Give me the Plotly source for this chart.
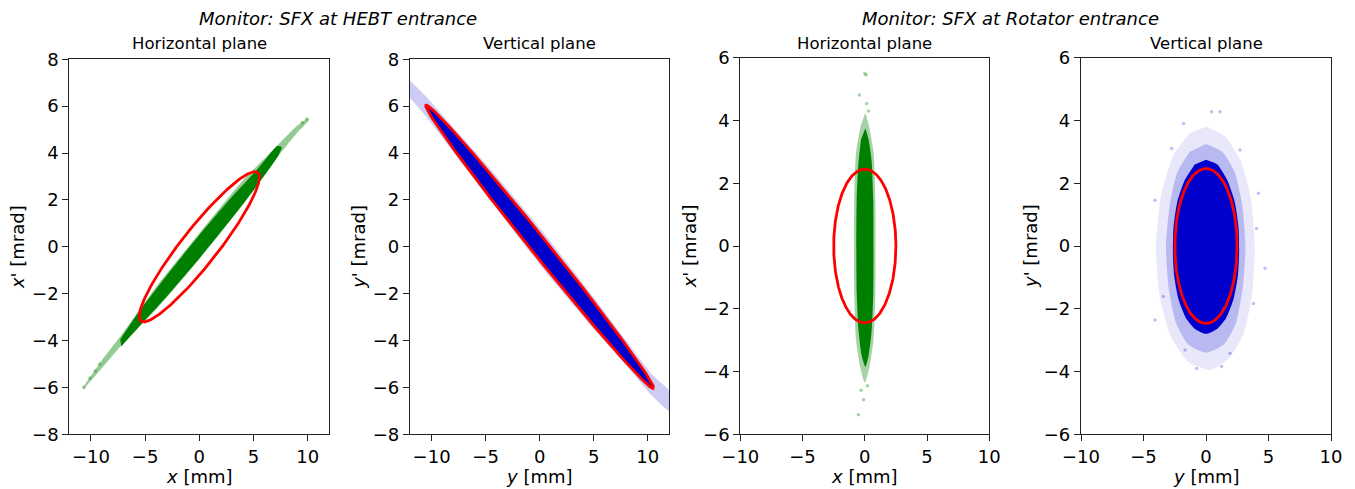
import numpy as np
import plotly.graph_objects as go

# ---------------- data ----------------
monitor_titles = ["Monitor: SFX at HEBT entrance", "Monitor: SFX at Rotator entrance"]
plane_titles = ["Horizontal plane", "Vertical plane", "Horizontal plane", "Vertical plane"]
x_labels = ["<i>x</i> [mm]", "<i>y</i> [mm]", "<i>x</i> [mm]", "<i>y</i> [mm]"]
y_labels = ["<i>x</i>' [mrad]", "<i>y</i>' [mrad]", "<i>x</i>' [mrad]", "<i>y</i>' [mrad]"]
x_ranges = [[-12, 12], [-12, 12], [-10, 10], [-10, 10]]
y_ranges = [[-8, 8], [-8, 8], [-6, 6], [-6, 6]]
x_ticks = [-10, -5, 0, 5, 10]
y_ticks_hebt = [-8, -6, -4, -2, 0, 2, 4, 6, 8]
y_ticks_rot = [-6, -4, -2, 0, 2, 4, 6]

# RMS-ellipse Twiss parameters per panel (alpha, beta [mm/mrad], emittance [mm mrad])
ell_alpha = [-2.45, 10.5, 0.0, 0.0]
ell_beta = [4.58, 18.4, 1.02, 1.01]
ell_emit = [6.72, 6.05, 6.125, 6.15]

# Panel 1 (HEBT, horizontal) particle cloud outlines
p1_halo_x = [-10.7, -9.0, -7.0, -4.0, 0.0, 4.0, 7.0, 9.0, 10.1, 10.1, 9.0, 7.0, 4.0, 0.0, -4.0, -7.0, -9.0, -10.7]
p1_halo_y = [-5.97, -4.85, -3.65, -1.72, 0.58, 2.82, 4.22, 5.15, 5.5, 5.4, 4.85, 3.7, 1.78, -0.52, -2.68, -4.1, -5.18, -6.08]
p1_core_x = [-7.3, -5.5, -3.0, 0.0, 3.0, 5.5, 7.2, 7.6, 7.3, 5.5, 3.0, 0.0, -3.0, -5.5, -7.2]
p1_core_y = [-3.95, -2.72, -1.22, 0.5, 2.12, 3.38, 4.3, 4.25, 3.9, 2.72, 1.22, -0.5, -2.12, -3.38, -4.25]
p1_out_x = [-10.65, -10.1, -9.6, -9.2, 9.9, 9.5]
p1_out_y = [-6.0, -5.6, -5.3, -5.0, 5.45, 5.3]

# Panel 2 (HEBT, vertical) particle cloud outlines
p2_halo_x = [-12.0, -10.5, -8.0, -5.0, 0.0, 5.0, 8.0, 10.5, 12.0, 12.0, 10.5, 8.0, 5.0, 0.0, -5.0, -8.0, -10.5, -12.0]
p2_halo_y = [7.1, 6.4, 5.1, 3.55, 0.8, -2.15, -4.0, -5.5, -6.15, -7.0, -6.4, -5.05, -3.5, -0.75, 2.25, 4.05, 5.55, 6.35]
p2_core_x = [-10.45, -10.0, -8.0, -5.0, -2.0, 0.0, 2.0, 5.0, 8.0, 10.0, 10.45, 10.0, 8.0, 5.0, 2.0, 0.0, -2.0, -5.0, -8.0, -10.0]
p2_core_y = [5.97, 5.89, 4.94, 3.36, 1.70, 0.57, -0.58, -2.35, -4.20, -5.53, -5.97, -5.89, -4.94, -3.36, -1.70, -0.57, 0.58, 2.35, 4.20, 5.53]

# Panel 3 (Rotator, horizontal) particle cloud outlines and outliers
p3_halo_x = [0.05, 0.35, 0.7, 0.85, 0.85, 0.7, 0.35, 0.0, -0.35, -0.7, -0.85, -0.85, -0.7, -0.35]
p3_halo_y = [4.25, 3.8, 3.0, 1.5, -1.5, -3.0, -3.9, -4.35, -3.9, -3.0, -1.5, 1.5, 3.0, 3.8]
p3_core_x = [0.05, 0.3, 0.55, 0.68, 0.7, 0.68, 0.55, 0.3, 0.05, -0.25, -0.5, -0.65, -0.68, -0.65, -0.5, -0.3]
p3_core_y = [3.75, 3.4, 2.7, 1.5, 0.0, -1.5, -2.7, -3.5, -3.85, -3.5, -2.7, -1.5, 0.0, 1.5, 2.7, 3.4]
p3_out_x = [0.0, 0.1, -0.44, 0.15, 0.3, -0.52, -0.3, 0.2, -0.1]
p3_out_y = [5.5, 5.45, 4.81, 4.54, 4.3, -5.38, -4.6, -4.45, -4.9]

# Panel 4 (Rotator, vertical) particle cloud outlines and outliers
p4_outer_x = [0.0, 1.5, 2.8, 3.6, 3.9, 3.7, 3.0, 1.8, 0.3, -1.4, -2.8, -3.7, -4.0, -3.6, -2.6, -1.3]
p4_outer_y = [3.8, 3.5, 2.7, 1.5, 0.0, -1.5, -2.8, -3.6, -3.95, -3.7, -2.9, -1.6, 0.0, 1.6, 2.9, 3.6]
p4_mid_x = [0.0, 1.3, 2.3, 2.9, 3.15, 2.95, 2.4, 1.4, 0.0, -1.4, -2.4, -3.0, -3.2, -2.9, -2.3, -1.3]
p4_mid_y = [3.25, 3.0, 2.35, 1.3, 0.0, -1.3, -2.45, -3.15, -3.4, -3.15, -2.45, -1.3, 0.0, 1.3, 2.35, 3.0]
p4_core_x = [0.0, 0.9, 1.7, 2.3, 2.6, 2.65, 2.55, 2.2, 1.6, 0.85, 0.0, -0.85, -1.6, -2.2, -2.55, -2.65, -2.6, -2.3, -1.7, -0.9]
p4_core_y = [2.75, 2.6, 2.1, 1.4, 0.6, -0.2, -0.95, -1.7, -2.3, -2.65, -2.8, -2.65, -2.3, -1.7, -0.95, -0.2, 0.6, 1.4, 2.1, 2.6]
p4_out_x = [1.12, 0.45, -1.8, 4.72, -4.08, -4.08, -0.75, 1.25, 4.19, 4.05, 3.79, -2.75, 2.72, -3.41, -1.68, 1.92]
p4_out_y = [4.28, 4.28, 3.9, -0.71, 1.46, -2.36, -3.9, -3.84, 1.68, 0.56, -1.83, 3.11, 3.06, -1.61, -3.31, -3.42]

# ---------------- styling ----------------
GREEN = "#008000"
BLUE = "#0000CD"
FONT = "DejaVu Sans"
W, H = 1355, 489

# panel frames in pixels (left, right, top, bottom)
frames = [(69.3, 329.3, 59.3, 434.3), (410.0, 669.3, 59.3, 434.3),
          (740.3, 989.3, 57.7, 434.3), (1081.0, 1331.0, 57.7, 434.3)]

fig = go.Figure()


def axes_names(i):
    s = "" if i == 0 else str(i + 1)
    return "x" + s, "y" + s


def add_poly(i, xs, ys, color):
    xa, ya = axes_names(i)
    fig.add_trace(go.Scatter(x=xs, y=ys, xaxis=xa, yaxis=ya, mode="lines",
                             fill="toself", fillcolor=color,
                             line=dict(width=0, color=color, shape="spline", smoothing=0.6),
                             hoverinfo="skip", showlegend=False))


def add_points(i, xs, ys, color, op=0.35):
    xa, ya = axes_names(i)
    fig.add_trace(go.Scatter(x=xs, y=ys, xaxis=xa, yaxis=ya, mode="markers",
                             marker=dict(size=3.5, color=color, opacity=op, line=dict(width=0)),
                             hoverinfo="skip", showlegend=False))


def add_ellipse(i):
    xa, ya = axes_names(i)
    a, b, e = ell_alpha[i], ell_beta[i], ell_emit[i]
    t = np.linspace(0, 2 * np.pi, 721)
    u = np.sqrt(e * b) * np.cos(t)
    v = -np.sqrt(e / b) * (a * np.cos(t) + np.sin(t))
    fig.add_trace(go.Scatter(x=u, y=v, xaxis=xa, yaxis=ya, mode="lines",
                             line=dict(color="#FF0000", width=2.8),
                             hoverinfo="skip", showlegend=False))


# panel 1
add_poly(0, p1_halo_x, p1_halo_y, "rgba(0,128,0,0.42)")
add_poly(0, p1_core_x, p1_core_y, GREEN)
add_points(0, p1_out_x, p1_out_y, GREEN)
add_ellipse(0)
# panel 2
add_poly(1, p2_halo_x, p2_halo_y, "rgba(0,0,205,0.2)")
add_poly(1, p2_core_x, p2_core_y, BLUE)
add_ellipse(1)
# panel 3
add_poly(2, p3_halo_x, p3_halo_y, "rgba(0,128,0,0.35)")
add_poly(2, p3_core_x, p3_core_y, GREEN)
add_points(2, p3_out_x, p3_out_y, GREEN)
add_ellipse(2)
# panel 4
add_poly(3, p4_outer_x, p4_outer_y, "rgba(0,0,205,0.09)")
add_poly(3, p4_mid_x, p4_mid_y, "rgba(0,0,205,0.2)")
add_poly(3, p4_core_x, p4_core_y, BLUE)
add_points(3, p4_out_x, p4_out_y, BLUE, 0.25)
add_ellipse(3)

layout = dict(width=W, height=H, margin=dict(l=0, r=0, t=0, b=0, autoexpand=False),
              paper_bgcolor="white", plot_bgcolor="white",
              font=dict(family=FONT, size=16, color="black"),
              showlegend=False)

annotations = []
for i, (l, r, t, b) in enumerate(frames):
    s = "" if i == 0 else str(i + 1)
    xdom = [l / W, r / W]
    ydom = [1 - b / H, 1 - t / H]
    yt = y_ticks_hebt if i < 2 else y_ticks_rot
    common = dict(showgrid=False, zeroline=False, showline=True, mirror=True,
                  linecolor="#222222", linewidth=1.2, ticks="outside", ticklen=6,
                  tickwidth=1.2, tickcolor="#222222", automargin=False,
                  tickfont=dict(family=FONT, size=18, color="black"))
    layout["xaxis" + s] = dict(domain=xdom, range=x_ranges[i], tickvals=x_ticks,
                               anchor="y" + s, **common)
    layout["yaxis" + s] = dict(domain=ydom, range=y_ranges[i], tickvals=yt,
                               anchor="x" + s, **common)
    cx = (l + r) / 2 / W
    annotations.append(dict(text=plane_titles[i], x=cx, y=1 - 44 / H, xref="paper", yref="paper",
                            xanchor="center", yanchor="middle", showarrow=False,
                            font=dict(family=FONT, size=16.5, color="black")))
    annotations.append(dict(text=x_labels[i], x=cx, y=1 - 476 / H, xref="paper", yref="paper",
                            xanchor="center", yanchor="middle", showarrow=False,
                            font=dict(family=FONT, size=18, color="black")))
    annotations.append(dict(text=y_labels[i], x=(l - 51) / W, y=1 - ((t + b) / 2) / H,
                            xref="paper", yref="paper", textangle=-90,
                            xanchor="center", yanchor="middle", showarrow=False,
                            font=dict(family=FONT, size=18, color="black")))

for k, cxp in enumerate([338, 1010]):
    annotations.append(dict(text="<i>" + monitor_titles[k] + "</i>", x=cxp / W, y=1 - 18 / H,
                            xref="paper", yref="paper", xanchor="center", yanchor="middle",
                            showarrow=False, font=dict(family=FONT, size=18, color="black")))

layout["annotations"] = annotations
fig.update_layout(**layout)
fig.write_html("out.html")
